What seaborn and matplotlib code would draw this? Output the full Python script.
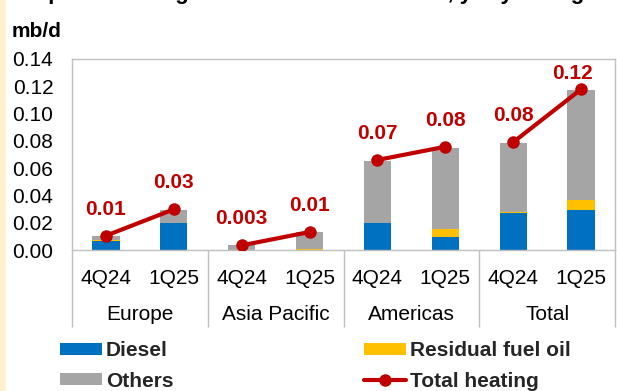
import numpy as np
import pandas as pd
import matplotlib
matplotlib.use("Agg")
import matplotlib.pyplot as plt
import matplotlib.transforms as mtransforms
from matplotlib.lines import Line2D
from matplotlib.patches import Patch, Rectangle
import seaborn as sns

# Heating demand change by region, mb/d
regions = ["Europe", "Europe", "Asia Pacific", "Asia Pacific",
           "Americas", "Americas", "Total", "Total"]
quarters = ["4Q24", "1Q25", "4Q24", "1Q25", "4Q24", "1Q25", "4Q24", "1Q25"]
group_names = ["Europe", "Asia Pacific", "Americas", "Total"]
diesel = [0.0068, 0.0195, 0.0, 0.0, 0.0200, 0.0098, 0.0269, 0.0296]
residual = [0.0006, 0.0006, 0.0, 0.0010, 0.0, 0.0056, 0.0010, 0.0071]
others = [0.0029, 0.0092, 0.0033, 0.0120, 0.0452, 0.0596, 0.0508, 0.0806]
total_heating = [0.0105, 0.0298, 0.0034, 0.0132, 0.0660, 0.0757, 0.0790, 0.1178]
y_ticks = [0.00, 0.02, 0.04, 0.06, 0.08, 0.10, 0.12, 0.14]

C_DIESEL = "#0070C0"
C_RESID = "#FFC000"
C_OTHERS = "#A5A5A5"
C_LINE = "#C00000"
C_FRAME = "#BFBFBF"

df = pd.DataFrame({
    "bar": [f"{r} {q}" for r, q in zip(regions, quarters)],
    "region": regions,
    "quarter": quarters,
    "diesel": diesel,
    "residual": residual,
    "others": others,
    "total": total_heating,
})
df["pos"] = np.arange(len(df))
df["stack_resid"] = df["diesel"] + df["residual"]
df["stack_all"] = df["stack_resid"] + df["others"]

sns.set_theme(style="white")
plt.rcParams["font.family"] = ["Liberation Sans", "DejaVu Sans"]

W, H = 617, 391
fig = plt.figure(figsize=(W / 100, H / 100), dpi=100)
fig.patch.set_facecolor("white")
ax = fig.add_axes([72 / W, 1 - 250 / H, (615 - 72) / W, (250 - 59) / H])

# cream page strip along the left edge
fig.patches.append(Rectangle((0, 0), 6 / W, 1, transform=fig.transFigure,
                             facecolor="#FFF2CC", edgecolor="none", zorder=-5))

order = list(df["bar"])
for col, colr in [("stack_all", C_OTHERS), ("stack_resid", C_RESID), ("diesel", C_DIESEL)]:
    sns.barplot(data=df, x="bar", y=col, order=order, color=colr, saturation=1,
                width=0.4, linewidth=0, errorbar=None, ax=ax)

sns.lineplot(data=df, x="pos", y="total", units="region", estimator=None,
             color=C_LINE, linewidth=3, marker="o", markersize=9,
             markeredgewidth=0, legend=False, ax=ax, zorder=5)

# value labels above the line points
nudges = {7: (-6.5, 11.5)}
for i, v in enumerate(total_heating):
    txt = f"{v:.2f}" if v >= 0.005 else f"{v:.3f}"
    dx, dy = nudges.get(i, (0, 19))
    ax.annotate(txt, (i, v), xytext=(dx, dy), textcoords="offset points",
                ha="center", va="center", color=C_LINE, fontsize=15,
                fontweight="bold", zorder=6)

ax.set_xlim(-0.5, 7.5)
ax.set_ylim(0, 0.14)
ax.set_yticks(y_ticks)
ax.set_yticklabels([f"{t:.2f}" for t in y_ticks])
ax.set_xticks(range(len(quarters)))
ax.set_xticklabels(quarters)
ax.set_xlabel("")
ax.set_ylabel("")
ax.tick_params(axis="both", length=0, labelsize=15, colors="black")
ax.tick_params(axis="y", pad=13.5)
ax.tick_params(axis="x", pad=14.0)
for s in ax.spines.values():
    s.set_visible(True)
    s.set_color(C_FRAME)
    s.set_linewidth(1.0)
ax.grid(False)

# category group separators and names below the axis
trans = mtransforms.blended_transform_factory(ax.transData, ax.transAxes)
ax_h = 250 - 59
for xv in [-0.5, 1.5, 3.5, 5.5, 7.5]:
    ax.plot([xv, xv], [0, -77 / ax_h], transform=trans, color=C_FRAME,
            lw=1.0, clip_on=False, solid_capstyle="butt")
for gi, name in enumerate(group_names):
    ax.text(2 * gi + 0.5, -70 / ax_h, name, transform=trans, ha="center",
            va="baseline", fontsize=15, color="black")

# heading runs off the top edge of the page crop
fig.text(10 / W, 1 + 1.0 / H, "Graph 3: Heating oil demand in the OECD, y-o-y change",
         fontsize=16, fontweight="bold", va="baseline", ha="left", color="black")
fig.text(12 / W, 1 - 37 / H, "mb/d", fontsize=15, fontweight="bold",
         va="baseline", ha="left", color="black")

leg_kw = dict(frameon=False, handlelength=2.0, handleheight=0.53,
              handletextpad=0.2, labelspacing=0.55, borderpad=0, borderaxespad=0,
              loc="center left", prop={"weight": "bold", "size": 15})
h1 = [Patch(facecolor=C_DIESEL, edgecolor="none"), Patch(facecolor=C_OTHERS, edgecolor="none")]
leg1 = fig.legend(h1, ["Diesel", "Others"], bbox_to_anchor=(60 / W, 1 - 366 / H), **leg_kw)
h2 = [Patch(facecolor=C_RESID, edgecolor="none"),
      Line2D([], [], color=C_LINE, lw=3, marker="o", markersize=9, markeredgewidth=0)]
leg2 = fig.legend(h2, ["Residual fuel oil", "Total heating"],
                  bbox_to_anchor=(364 / W, 1 - 366 / H), **leg_kw)

fig.savefig("out.png", dpi=100)
